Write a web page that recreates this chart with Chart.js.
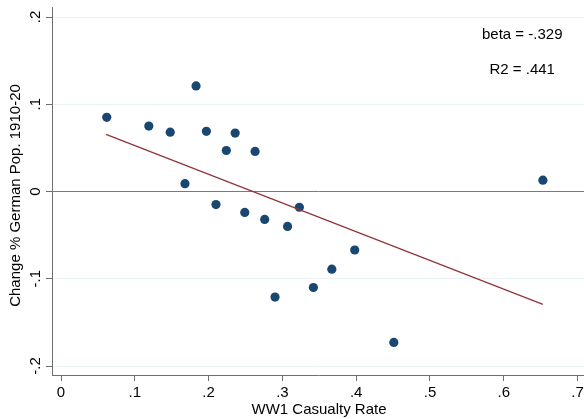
<!DOCTYPE html>
<html>
<head>
<meta charset="utf-8">
<script src="https://cdn.jsdelivr.net/npm/chart.js@4"></script>
<style>
  body { margin: 0; background: #fff; }
  canvas { display: block; }
</style>
</head>
<body>
<canvas id="casualtyChart" width="584" height="419"></canvas>
<script>
// values
const casualtyRate = [0.062, 0.119, 0.148, 0.183, 0.197, 0.236, 0.224, 0.263, 0.168, 0.210,
                      0.249, 0.276, 0.307, 0.323, 0.290, 0.342, 0.367, 0.398, 0.451, 0.653];
const popChange = [0.085, 0.075, 0.068, 0.121, 0.069, 0.067, 0.047, 0.046, 0.009, -0.015,
                   -0.024, -0.032, -0.040, -0.018, -0.121, -0.110, -0.089, -0.067, -0.173, 0.013];
// fitted line end points
const fitX = [0.061, 0.653];
const fitY = [0.0655, -0.1293];

const xTicks = [0, 0.1, 0.2, 0.3, 0.4, 0.5, 0.6, 0.7];
const yTicks = [-0.2, -0.1, 0, 0.1, 0.2];
const xTitle = 'WW1 Casualty Rate';
const yTitle = 'Change % German Pop. 1910-20';
const notes = ['beta = -.329', 'R2 = .441'];

const FONT = '15px "Liberation Sans", Arial, sans-serif';
const AXIS_GRAY = '#6f6f6f';

// stata style: 0, .1, -.1
function fmt(v) {
  if (v === 0) return '0';
  return String(v).replace('0.', '.');
}

const textPlugin = {
  id: 'stataText',
  afterDraw(chart) {
    const { ctx, chartArea, scales: { x, y } } = chart;
    ctx.save();
    ctx.fillStyle = '#000';
    ctx.font = FONT;
    ctx.textAlign = 'center';
    ctx.textBaseline = 'alphabetic';

    xTicks.forEach(v => ctx.fillText(fmt(v), x.getPixelForValue(v), chartArea.bottom + 22));
    ctx.fillText(xTitle, (chartArea.left + chartArea.right) / 2 + 1, chartArea.bottom + 38.5);

    yTicks.forEach(v => {
      ctx.save();
      ctx.translate(chartArea.left - 12.5, y.getPixelForValue(v));
      ctx.rotate(-Math.PI / 2);
      ctx.fillText(fmt(v), 0, 0);
      ctx.restore();
    });

    ctx.save();
    ctx.translate(chartArea.left - 32.5, 195.5);
    ctx.rotate(-Math.PI / 2);
    ctx.fillText(yTitle, 0, 0);
    ctx.restore();

    ctx.textBaseline = 'middle';
    ctx.fillText(notes[0], x.getPixelForValue(0.625), y.getPixelForValue(0.18));
    ctx.fillText(notes[1], x.getPixelForValue(0.625), y.getPixelForValue(0.14));
    ctx.restore();
  }
};

new Chart(document.getElementById('casualtyChart'), {
  type: 'scatter',
  data: {
    datasets: [
      {
        type: 'line',
        data: fitX.map((v, i) => ({ x: v, y: fitY[i] })),
        borderColor: '#90353b',
        borderWidth: 1.3,
        pointRadius: 0,
        fill: false,
        order: 0
      },
      {
        data: casualtyRate.map((v, i) => ({ x: v, y: popChange[i] })),
        backgroundColor: '#1a476f',
        borderWidth: 0,
        pointRadius: 4.6,
        order: 1
      }
    ]
  },
  options: {
    responsive: false,
    animation: false,
    layout: { autoPadding: false, padding: { left: 46, top: 7, right: 0, bottom: 38 } },
    plugins: { legend: { display: false }, tooltip: { enabled: false } },
    scales: {
      x: {
        type: 'linear', min: -0.0122, max: 0.7087,
        afterBuildTicks: s => { s.ticks = xTicks.map(v => ({ value: v })); },
        ticks: { display: false },
        grid: { drawOnChartArea: false, drawTicks: true, tickLength: 6, tickColor: AXIS_GRAY, tickWidth: 1 },
        border: { color: AXIS_GRAY, width: 1 }
      },
      y: {
        type: 'linear', min: -0.2103, max: 0.2115,
        afterBuildTicks: s => { s.ticks = yTicks.map(v => ({ value: v })); },
        ticks: { display: false },
        grid: {
          color: c => (c.tick && c.tick.value === 0) ? '#7a7a7a' : '#eaf2f3',
          lineWidth: 1,
          drawTicks: true, tickLength: 6, tickColor: AXIS_GRAY, tickWidth: 1
        },
        border: { color: AXIS_GRAY, width: 1 }
      }
    }
  },
  plugins: [textPlugin]
});
</script>
</body>
</html>
